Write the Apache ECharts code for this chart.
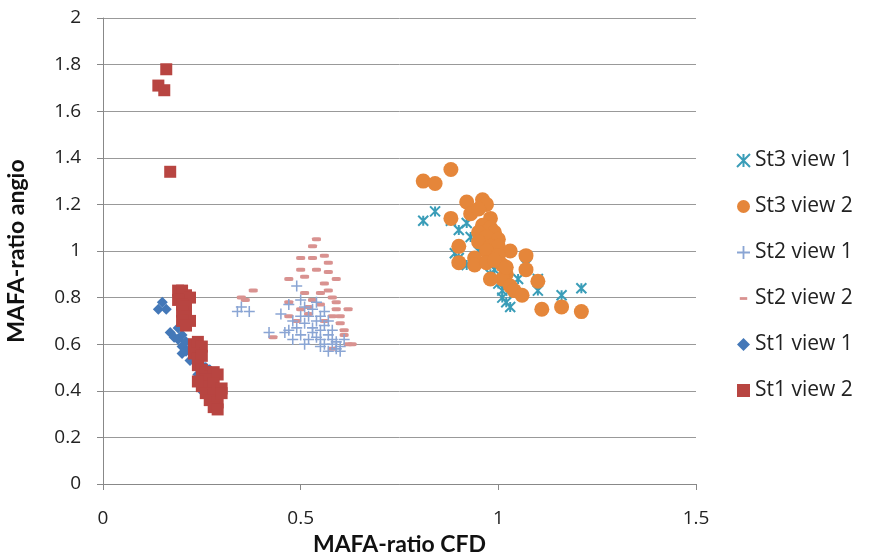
<!DOCTYPE html>
<html>
<head>
<meta charset="utf-8">
<script src="https://cdn.jsdelivr.net/npm/echarts@6/dist/echarts.min.js"></script>
<style>
  html, body { margin: 0; padding: 0; background: #fff; }
  #chart { width: 870px; height: 556px; }
</style>
</head>
<body>
<div id="chart"></div>
<script>
const xTicks = [0, 0.5, 1, 1.5]
const yTicks = [0, 0.2, 0.4, 0.6, 0.8, 1, 1.2, 1.4, 1.6, 1.8, 2]

const st3View1 = [
  [0.81, 1.13], [0.84, 1.17], [0.88, 1.13], [0.92, 1.12], [0.90, 1.09], [0.93, 1.06],
  [0.89, 0.99], [0.90, 0.97], [0.95, 1.00], [0.94, 0.97], [0.97, 0.95], [0.99, 0.92],
  [1.01, 0.83], [1.02, 0.78], [1.03, 0.76], [1.05, 0.88], [1.07, 0.94], [1.10, 0.88],
  [1.10, 0.83], [1.16, 0.81], [1.21, 0.84], [1.00, 0.86], [0.98, 0.90], [1.04, 0.82],
  [0.96, 1.02], [1.01, 0.80], [0.92, 0.94]
]
const st3View2 = [
  [0.88, 1.35], [0.81, 1.30], [0.84, 1.29], [0.92, 1.21], [0.96, 1.22], [0.97, 1.20],
  [0.93, 1.16], [0.95, 1.18], [0.88, 1.14], [0.98, 1.14], [0.96, 1.11], [0.98, 1.10],
  [0.99, 1.08], [0.95, 1.08], [0.97, 1.06], [0.95, 1.04], [1.00, 1.05], [0.98, 1.02],
  [1.00, 1.02], [1.03, 1.00], [0.90, 1.02], [0.97, 1.00], [1.00, 0.98], [0.94, 0.97],
  [0.90, 0.95], [0.94, 0.94], [0.97, 0.95], [1.01, 0.94], [1.07, 0.98], [1.07, 0.92],
  [1.02, 0.90], [1.01, 0.88], [1.10, 0.87], [0.98, 0.88], [1.03, 0.85], [1.04, 0.83],
  [1.06, 0.81], [1.11, 0.75], [1.16, 0.76], [1.21, 0.74], [0.99, 0.96], [1.02, 0.93]
]
const st2View1 = [
  [0.34, 0.74], [0.37, 0.74], [0.35, 0.76], [0.42, 0.65], [0.46, 0.65], [0.45, 0.73],
  [0.49, 0.85], [0.47, 0.77], [0.50, 0.79], [0.48, 0.70], [0.49, 0.67], [0.50, 0.64],
  [0.51, 0.69], [0.52, 0.72], [0.53, 0.75], [0.54, 0.70], [0.55, 0.66], [0.52, 0.62],
  [0.53, 0.65], [0.55, 0.72], [0.56, 0.68], [0.54, 0.63], [0.57, 0.64], [0.58, 0.60],
  [0.56, 0.60], [0.59, 0.58], [0.60, 0.57], [0.57, 0.57], [0.55, 0.59], [0.58, 0.62],
  [0.61, 0.62], [0.48, 0.62], [0.51, 0.60], [0.53, 0.67], [0.56, 0.74], [0.57, 0.70],
  [0.50, 0.72], [0.58, 0.66], [0.54, 0.78], [0.51, 0.76], [0.59, 0.61], [0.60, 0.59],
  [0.47, 0.66], [0.55, 0.62]
]
const st2View2 = [
  [0.54, 1.05], [0.53, 1.02], [0.50, 0.97], [0.53, 0.97], [0.56, 0.98], [0.50, 0.92],
  [0.54, 0.92], [0.57, 0.91], [0.47, 0.88], [0.59, 0.88], [0.56, 0.86], [0.38, 0.83],
  [0.57, 0.83], [0.35, 0.80], [0.36, 0.79], [0.47, 0.78], [0.51, 0.82], [0.55, 0.82],
  [0.58, 0.80], [0.59, 0.78], [0.50, 0.75], [0.52, 0.76], [0.55, 0.77], [0.52, 0.73],
  [0.59, 0.75], [0.62, 0.75], [0.47, 0.72], [0.58, 0.72], [0.60, 0.72], [0.49, 0.70],
  [0.61, 0.66], [0.43, 0.63], [0.62, 0.60], [0.63, 0.60], [0.58, 0.58], [0.53, 0.79],
  [0.56, 0.70], [0.60, 0.69], [0.61, 0.64], [0.51, 0.89], [0.57, 0.95]
]
const st1View1 = [
  [0.15, 0.78], [0.14, 0.75], [0.16, 0.75], [0.17, 0.65], [0.19, 0.67], [0.20, 0.64],
  [0.19, 0.62], [0.21, 0.61], [0.20, 0.59], [0.21, 0.57], [0.22, 0.58], [0.23, 0.55],
  [0.22, 0.53], [0.24, 0.52], [0.25, 0.51], [0.26, 0.50], [0.27, 0.49], [0.28, 0.47],
  [0.26, 0.45], [0.25, 0.40], [0.27, 0.38], [0.24, 0.47], [0.18, 0.63], [0.20, 0.56]
]
const st1View2 = [
  [0.16, 1.78], [0.14, 1.71], [0.155, 1.69], [0.17, 1.34],
  [0.19, 0.83], [0.20, 0.83], [0.21, 0.81], [0.22, 0.80], [0.19, 0.79], [0.20, 0.77],
  [0.21, 0.76], [0.20, 0.74], [0.21, 0.72], [0.22, 0.70], [0.20, 0.70], [0.21, 0.68],
  [0.23, 0.60], [0.24, 0.61], [0.25, 0.59], [0.23, 0.56], [0.24, 0.54], [0.25, 0.55],
  [0.24, 0.51], [0.25, 0.49], [0.26, 0.48], [0.27, 0.46], [0.28, 0.48], [0.29, 0.47],
  [0.26, 0.45], [0.25, 0.42], [0.27, 0.42], [0.28, 0.43], [0.29, 0.40], [0.30, 0.41],
  [0.26, 0.39], [0.28, 0.38], [0.27, 0.36], [0.29, 0.35], [0.28, 0.33], [0.29, 0.32],
  [0.30, 0.39], [0.24, 0.44]
]

const labelFont = '"Open Sans", Lato, sans-serif'
const titleFont = 'Lato, "Open Sans", sans-serif'
const plusPath = 'path://M4.3,0H5.7V4.3H10V5.7H5.7V10H4.3V5.7H0V4.3H4.3Z'
const starPath = 'path://M0,0L10,10M10,0L0,10M5,0L5,10'
// dash icon for legend: the moveTo points keep the box square
const dashIcon = 'path://M0,0M14,14M3,5.5H11V8.5H3Z'

const myChart = echarts.init(document.getElementById('chart'))
myChart.setOption({
  animation: false,
  textStyle: { fontFamily: labelFont },
  grid: { left: 103, right: 174, top: 18, bottom: 72, outerBoundsMode: 'none', containLabel: false },
  legend: {
    orient: 'vertical',
    left: 731,
    top: 145,
    itemGap: 25,
    itemWidth: 13,
    itemHeight: 13,
    itemTextGap: 6,
    data: [
      { name: 'St3 view 1' },
      { name: 'St3 view 2' },
      { name: 'St2 view 1' },
      { name: 'St2 view 2', icon: dashIcon },
      { name: 'St1 view 1' },
      { name: 'St1 view 2' }
    ],
    textStyle: { fontFamily: labelFont, fontSize: 21, color: '#222' }
  },
  xAxis: {
    type: 'value',
    min: 0, max: 1.5, interval: 0.5,
    name: 'MAFA-ratio CFD',
    nameLocation: 'middle',
    nameGap: 43,
    nameTextStyle: { fontFamily: titleFont, fontSize: 23, fontWeight: 'bold', color: '#111' },
    splitLine: { show: false },
    axisLine: { lineStyle: { color: '#888' } },
    axisTick: { show: true, length: 6, lineStyle: { color: '#888' } },
    axisLabel: { margin: 25, fontSize: 19, color: '#222',
      formatter: v => xTicks.includes(v) ? String(v) : '' }
  },
  yAxis: {
    type: 'value',
    min: 0, max: 2, interval: 0.2,
    name: 'MAFA-ratio angio',
    nameLocation: 'middle',
    nameGap: 75,
    nameTextStyle: { fontFamily: titleFont, fontSize: 23, fontWeight: 'bold', color: '#111' },
    splitLine: { lineStyle: { color: '#999' } },
    axisLine: { show: true, lineStyle: { color: '#888' } },
    axisTick: { show: true, length: 6, lineStyle: { color: '#888' } },
    axisLabel: { margin: 22, fontSize: 19, color: '#222',
      formatter: v => {
        const t = yTicks.find(y => Math.abs(y - v) < 1e-6)
        return t === undefined ? '' : String(t)
      } }
  },
  series: [
    { name: 'St3 view 1', type: 'scatter', data: st3View1, symbol: starPath, symbolSize: 10,
      itemStyle: { color: '#3a9db8', borderColor: '#3a9db8', borderWidth: 2, opacity: 1 } },
    { name: 'St3 view 2', type: 'scatter', data: st3View2, symbol: 'circle', symbolSize: 15,
      itemStyle: { color: '#e5863a', opacity: 1 } },
    { name: 'St2 view 2', type: 'scatter', data: st2View2, symbol: 'roundRect', symbolSize: [9, 4],
      itemStyle: { color: '#d99290', opacity: 1 } },
    { name: 'St2 view 1', type: 'scatter', data: st2View1, symbol: plusPath, symbolSize: 11,
      itemStyle: { color: '#8aa5d4', opacity: 1 } },
    { name: 'St1 view 1', type: 'scatter', data: st1View1, symbol: 'diamond', symbolSize: 11,
      itemStyle: { color: '#4478b8', opacity: 1 } },
    { name: 'St1 view 2', type: 'scatter', data: st1View2, symbol: 'rect', symbolSize: 12,
      itemStyle: { color: '#b84541', opacity: 1 } }
  ]
})
</script>
</body>
</html>
